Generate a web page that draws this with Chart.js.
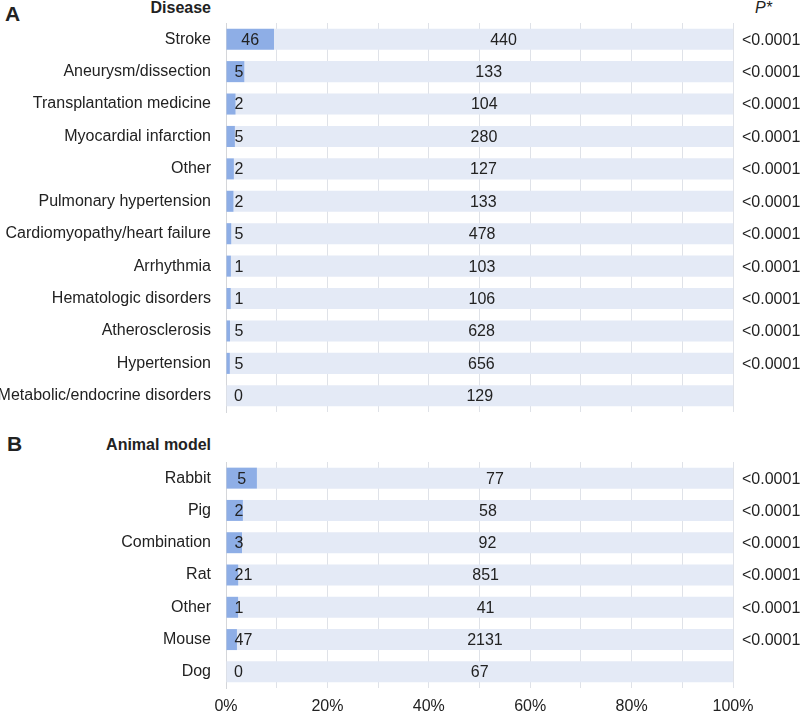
<!DOCTYPE html>
<html>
<head>
<meta charset="utf-8">
<script src="https://cdn.jsdelivr.net/npm/chart.js@4"></script>
<style>
  html, body { margin: 0; padding: 0; background: #fff; }
  body { width: 800px; height: 713px; position: relative; overflow: hidden;
         font-family: 'Liberation Sans', Arial, sans-serif; color: #222; }
  .box { position: absolute; left: 0; width: 800px; }
  .hdr { position: absolute; font-weight: bold; font-size: 16px; white-space: nowrap; }
  .panel { position: absolute; font-weight: bold; font-size: 21px; }
</style>
</head>
<body>
<div class="panel" style="left:5px;top:2px;">A</div>
<div class="hdr" style="right:589px;top:-1px;">Disease</div>
<div class="hdr" style="left:755px;top:-1px;font-weight:normal;font-style:italic;">P*</div>
<div class="panel" style="left:7px;top:432px;">B</div>
<div class="hdr" style="right:589px;top:436px;">Animal model</div>

<div class="box" style="top:0;height:416px;"><canvas id="chartA"></canvas></div>
<div class="box" style="top:440px;height:273px;"><canvas id="chartB"></canvas></div>

<script>
// panel A - disease
var diseaseLabels = ['Stroke', 'Aneurysm/dissection', 'Transplantation medicine', 'Myocardial infarction',
  'Other', 'Pulmonary hypertension', 'Cardiomyopathy/heart failure', 'Arrhythmia',
  'Hematologic disorders', 'Atherosclerosis', 'Hypertension', 'Metabolic/endocrine disorders'];
var diseaseFirst = [46, 5, 2, 5, 2, 2, 5, 1, 1, 5, 5, 0];
var diseaseSecond = [440, 133, 104, 280, 127, 133, 478, 103, 106, 628, 656, 129];
var diseaseP = ['<0.0001', '<0.0001', '<0.0001', '<0.0001', '<0.0001', '<0.0001',
  '<0.0001', '<0.0001', '<0.0001', '<0.0001', '<0.0001', ''];

// panel B - animal model
var animalLabels = ['Rabbit', 'Pig', 'Combination', 'Rat', 'Other', 'Mouse', 'Dog'];
var animalFirst = [5, 2, 3, 21, 1, 47, 0];
var animalSecond = [77, 58, 92, 851, 41, 2131, 67];
var animalP = ['<0.0001', '<0.0001', '<0.0001', '<0.0001', '<0.0001', '<0.0001', ''];

var xTicks = ['0%', '20%', '40%', '60%', '80%', '100%'];

Chart.defaults.font.family = "'Liberation Sans', Arial, sans-serif";
Chart.defaults.font.size = 16;
Chart.defaults.color = '#222';

var darkBlue = '#8eaee6';
var lightBlue = '#e4eaf6';

function pct(a, b) {
  return a.map(function (v, i) { return v / (v + b[i]) * 100; });
}

// draws the counts on the bars and the p values on the right
var countLabels = {
  id: 'countLabels',
  afterDatasetsDraw: function (chart, args, opts) {
    var ctx = chart.ctx;
    ctx.save();
    ctx.font = "16px 'Liberation Sans', Arial, sans-serif";
    ctx.fillStyle = '#222';
    ctx.textBaseline = 'middle';
    var m0 = chart.getDatasetMeta(0);
    var m1 = chart.getDatasetMeta(1);
    m0.data.forEach(function (el, i) {
      var p = el.getProps(['x', 'y', 'base'], true);
      var txt = String(opts.first[i]);
      var w = ctx.measureText(txt).width;
      var left = Math.min(p.x, p.base);
      var width = Math.abs(p.x - p.base);
      if (width > w + 16) {
        ctx.textAlign = 'center';
        ctx.fillText(txt, left + width / 2, p.y + 1);
      } else {
        ctx.textAlign = 'left';
        ctx.fillText(txt, left + 8, p.y + 1);
      }
    });
    m1.data.forEach(function (el, i) {
      var p = el.getProps(['x', 'y', 'base'], true);
      ctx.textAlign = 'center';
      ctx.fillText(String(opts.second[i]), (p.x + p.base) / 2, p.y + 1);
      ctx.textAlign = 'left';
      ctx.fillText(opts.pvals[i], chart.chartArea.right + 9, p.y + 1);
    });
    ctx.restore();
  }
};

function makeChart(id, labels, first, second, pvals, showTicks, padTop) {
  var firstPct = pct(first, second);
  var secondPct = firstPct.map(function (v) { return 100 - v; });
  return new Chart(document.getElementById(id).getContext('2d'), {
    type: 'bar',
    data: {
      labels: labels,
      datasets: [{
        data: firstPct,
        backgroundColor: darkBlue,
        borderWidth: 0
      }, {
        data: secondPct,
        backgroundColor: lightBlue,
        borderWidth: 0
      }]
    },
    options: {
      indexAxis: 'y',
      responsive: true,
      maintainAspectRatio: false,
      animation: false,
      layout: { padding: { top: padTop, right: 67, bottom: showTicks ? 0 : 4, left: 0 } },
      datasets: { bar: { categoryPercentage: 1, barPercentage: 0.65 } },
      plugins: {
        legend: { display: false },
        tooltip: { enabled: false },
        countLabels: { first: first, second: second, pvals: pvals }
      },
      scales: {
        x: {
          stacked: true,
          min: 0,
          max: 100,
          border: { display: false },
          grid: { color: '#dfe2e8', drawTicks: false },
          ticks: {
            display: showTicks,
            stepSize: 10,
            padding: 9,
            maxRotation: 0,
            autoSkip: false,
            callback: function (v) { return v % 20 === 0 ? xTicks[v / 20] : ''; }
          },
          afterFit: function (s) {
            s.height = showTicks ? 25 : 0;
            s.paddingLeft = 0; s.paddingRight = 0;
          }
        },
        y: {
          stacked: true,
          grid: { display: false, drawTicks: false },
          border: { display: true, color: '#d4d6da' },
          ticks: { padding: 15, autoSkip: false },
          afterFit: function (s) {
            s.width = 226;
            s.paddingTop = 0; s.paddingBottom = 0;
          }
        }
      }
    },
    plugins: [countLabels]
  });
}

makeChart('chartA', diseaseLabels, diseaseFirst, diseaseSecond, diseaseP, false, 23);
makeChart('chartB', animalLabels, animalFirst, animalSecond, animalP, true, 22);
</script>
</body>
</html>
